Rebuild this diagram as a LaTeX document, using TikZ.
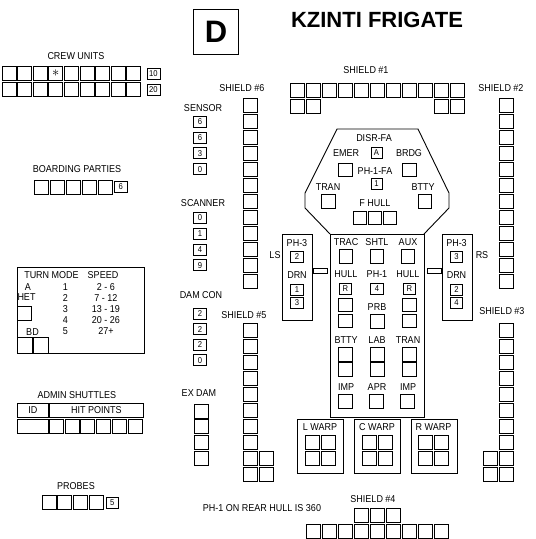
\documentclass[tikz,border=0pt]{standalone}
\usepackage{fontspec}
\setmainfont{Liberation Sans}
\newfontfamily\ssdfont[FakeStretch=0.9]{Liberation Sans}
\usetikzlibrary{positioning}

\begin{document}
\begin{tikzpicture}[x=1pt, y=-1pt, line width=0.9pt,
  cell/.style={draw, anchor=north west, minimum width=14pt, minimum height=14pt, inner sep=0pt},
  hbox/.style={draw, minimum width=13.5pt, minimum height=13.5pt, inner sep=0pt, font=\ssdfont\fontsize{8.5}{8.5}\selectfont},
  tag/.style={draw, minimum width=12.5pt, minimum height=11pt, inner sep=0pt, font=\ssdfont\fontsize{8.5}{8.5}\selectfont},
  lbl/.style={inner sep=0pt, font=\ssdfont\fontsize{10}{10}\selectfont},
  panel/.style={draw, anchor=north west, inner sep=0pt}]
\useasboundingbox (0,0) rectangle (536,539);

% title block
\node[draw, minimum size=45pt, inner sep=0pt, font=\bfseries\fontsize{31}{31}\selectfont] (dbox) at (216,32) {D};
\node[inner sep=0pt, font=\bfseries\fontsize{22}{22}\selectfont] (title) at (377,19.5) {KZINTI FRIGATE};

% crew units
\node[lbl] (crewlbl) at (76,56) {CREW UNITS};
\foreach \i in {0,...,8} {
  \node[cell] (crewA\i) at (1.5+15.6*\i,65.5) {};
  \node[cell] (crewB\i) at (1.5+15.6*\i,81.5) {};
}
\node[inner sep=0pt] at (crewA3.center) {\Large$\ast$};
\node[tag, anchor=north west, minimum width=13pt] (crew10) at (146.5,67.5) {10};
\node[tag, anchor=north west, minimum width=13pt] (crew20) at (146.5,83.5) {20};

% boarding parties
\node[lbl] (bplbl) at (77,169) {BOARDING PARTIES};
\foreach \i in {0,...,4}
  \node[cell] (bp\i) at (33.5+16*\i,179.5) {};
\node[tag, anchor=north west] (bp6) at (114,181) {6};

% sensor, scanner, damage control
\node[lbl] (sensorlbl) at (203,108) {SENSOR};
\foreach \v/\i in {6/0, 6/1, 3/2, 0/3}
  \node[tag] (sensor\i) at (200,122+15.7*\i) {\v};
\node[lbl] (scannerlbl) at (203,203) {SCANNER};
\foreach \v/\i in {0/0, 1/1, 4/2, 9/3}
  \node[tag] (scanner\i) at (200,218+15.8*\i) {\v};
\node[lbl] (damconlbl) at (201,295) {DAM CON};
\foreach \v/\i in {2/0, 2/1, 2/2, 0/3}
  \node[tag] (damcon\i) at (200,313.5+15.6*\i) {\v};
\node[lbl] (exdamlbl) at (199,393) {EX DAM};
\foreach \i in {0,...,3}
  \node[cell] (exdam\i) at (193.5,403.5+15.8*\i) {};

% turn mode chart
\node[panel, minimum width=127pt, minimum height=86pt] (turnmode) at (17,267) {};
\node[lbl] (tmhead) at (51.5,275) {TURN MODE};
\node[lbl] (spdhead) at (103,275) {SPEED};
\node[lbl] (tmA) at (28,287) {A};
\node[lbl] (hetlbl) at (26.5,297.5) {HET};
\node[panel, minimum width=14pt, minimum height=14pt] (hetbox) at (17,306) {};
\node[lbl] (bdlbl) at (32.5,332) {BD};
\node[panel, minimum width=15pt, minimum height=16pt] (bdA) at (17,337) {};
\node[panel, minimum width=14.5pt, minimum height=16pt] (bdB) at (33,337) {};
\foreach \m/\s/\i in {1/2 - 6/0, 2/7 - 12/1, 3/13 - 19/2, 4/20 - 26/3, 5/27+/4} {
  \node[lbl] (mode\i) at (65.5,287+11*\i) {\m};
  \node[lbl] (speed\i) at (106,287+11*\i) {\s};
}

% admin shuttles
\node[lbl] (admlbl) at (77,395) {ADMIN SHUTTLES};
\node[panel, minimum width=31pt, minimum height=14pt, font=\ssdfont\fontsize{10}{10}\selectfont] (idhead) at (17,403) {ID};
\node[panel, minimum width=94pt, minimum height=14pt, font=\ssdfont\fontsize{10}{10}\selectfont] (hphead) at (49,403) {HIT POINTS};
\node[panel, minimum width=31pt, minimum height=14pt] (idcell) at (17,419) {};
\foreach \i in {0,...,5}
  \node[cell] (hp\i) at (49+15.7*\i,419) {};

% probes
\node[lbl] (problbl) at (76,486) {PROBES};
\foreach \i in {0,...,3}
  \node[cell] (probe\i) at (41.5+15.7*\i,495) {};
\node[tag, anchor=north west] (probe5) at (105.5,497) {5};

\node[lbl] (rearnote) at (262,508) {PH-1 ON REAR HULL IS 360};

% shields
\node[lbl] (sh1lbl) at (366,70) {SHIELD \#1};
\foreach \i in {0,...,10}
  \node[cell] (shA\i) at (289.5+16*\i,82.5) {};
\foreach \x in {289.5, 305.5, 433.5, 449.5}
  \node[cell] at (\x,98.5) {};
\node[lbl] (sh2lbl) at (501,88) {SHIELD \#2};
\node[lbl] (sh6lbl) at (242,88) {SHIELD \#6};
\foreach \i in {0,...,11} {
  \node[cell] (shB\i) at (498.5,97.5+16*\i) {};
  \node[cell] (shF\i) at (242.5,97.5+16*\i) {};
}
\node[lbl] (sh3lbl) at (502,311) {SHIELD \#3};
\node[lbl] (sh5lbl) at (244,315) {SHIELD \#5};
\foreach \i in {0,...,7} {
  \node[cell] (shC\i) at (498.5,322.5+16*\i) {};
  \node[cell] (shE\i) at (242.5,322.5+16*\i) {};
}
\foreach \y in {450.5, 466.5} {
  \node[cell] at (482.5,\y) {};
  \node[cell] at (498.5,\y) {};
  \node[cell] at (242.5,\y) {};
  \node[cell] at (258.5,\y) {};
}
\node[lbl] (sh4lbl) at (373,499) {SHIELD \#4};
\foreach \i in {0,...,2}
  \node[cell] (shD\i) at (353.5+16*\i,507.5) {};
\foreach \i in {0,...,8}
  \node[cell] (shG\i) at (305.5+16*\i,523.5) {};

% hull outline
\draw (330,234) -- (305,208) -- (305,193) -- (337,129) -- (418,129) -- (449,193) -- (449,208) -- (424,234);
\node[panel, minimum width=94pt, minimum height=183pt] (hull) at (330,234) {};

% forward hull
\node[lbl] (disrlbl) at (374,138) {DISR-FA};
\node[tag, minimum width=11pt] (disr) at (376.5,152.5) {A};
\node[lbl] (emerlbl) at (346,153) {EMER};
\node[hbox] (emer) at (345.5,170) {};
\node[lbl] (brdglbl) at (409,153) {BRDG};
\node[hbox] (brdg) at (409.5,170) {};
\node[lbl] (ph1falbl) at (375,171) {PH-1-FA};
\node[tag, minimum width=11pt] (ph1fa) at (376.5,184) {1};
\node[lbl] (tranFlbl) at (328,187) {TRAN};
\node[hbox] (tranF) at (328.5,201.5) {};
\node[lbl] (bttyFlbl) at (423,187) {BTTY};
\node[hbox] (bttyF) at (425,201.5) {};
\node[lbl] (fhulllbl) at (375,203) {F HULL};
\foreach \i in {0,...,2}
  \node[hbox] (fhull\i) at (360+15*\i,218) {};

% main hull
\foreach \l/\x/\n in {TRAC/346/0, SHTL/377/1, AUX/408/2} {
  \node[lbl] at (\x,242) {\l};
  \node[hbox] (row\n) at (\x,256.5) {};
}
\foreach \l/\x in {HULL/346, PH-1/377, HULL/408}
  \node[lbl] at (\x,274) {\l};
\node[tag] (lhullR) at (345.5,289) {R};
\node[tag] (ph1) at (377,289) {4};
\node[tag] (rhullR) at (409.5,289) {R};
\foreach \y in {305, 321} {
  \node[hbox] at (345.5,\y) {};
  \node[hbox] at (409.5,\y) {};
}
\node[lbl] (prblbl) at (377,307) {PRB};
\node[hbox] (prb) at (377.5,321.5) {};
\foreach \l/\x in {BTTY/346, LAB/377, TRAN/408}
  \node[lbl] at (\x,340) {\l};
\foreach \x in {345.5, 377.5, 409.5}
  \foreach \y in {354.5, 369.5}
    \node[hbox] at (\x,\y) {};
\foreach \l/\x in {IMP/346, APR/377, IMP/408} {
  \node[lbl] at (\x,387) {\l};
  \node[hbox] at (\x-0.5,401.5) {};
}

% side phaser pods
\node[panel, minimum width=30pt, minimum height=86pt] (lspod) at (282,234) {};
\node[panel, minimum width=30pt, minimum height=86pt] (rspod) at (442,234) {};
\node[lbl] (lslbl) at (275,255) {LS};
\node[lbl] (rslbl) at (482,255) {RS};
\foreach \p/\x/\a/\b/\c in {L/297/2/1/3, R/456.5/3/2/4} {
  \node[lbl] at (\x,243) {PH-3};
  \node[tag] (\p ph3) at (\x,257) {\a};
  \node[lbl] at (\x,275) {DRN};
  \node[tag] (\p drnA) at (\x,290) {\b};
  \node[tag] (\p drnB) at (\x,303) {\c};
}
\node[draw, minimum width=14pt, minimum height=5pt, inner sep=0pt] (lslink) at (320,270.5) {};
\node[draw, minimum width=14pt, minimum height=5pt, inner sep=0pt] (rslink) at (434.5,270.5) {};

% warp engines
\foreach \l/\x/\n in {L WARP/297/L, C WARP/354/C, R WARP/410.5/R} {
  \node[panel, minimum width=46pt, minimum height=54pt] (warp\n) at (\x,419) {};
  \node[lbl] at (\x+23,427) {\l};
  \foreach \dx in {0,16}
    \foreach \dy in {0,16}
      \node[cell] at (\x+7.5+\dx,434.5+\dy) {};
}
\end{tikzpicture}
\end{document}
